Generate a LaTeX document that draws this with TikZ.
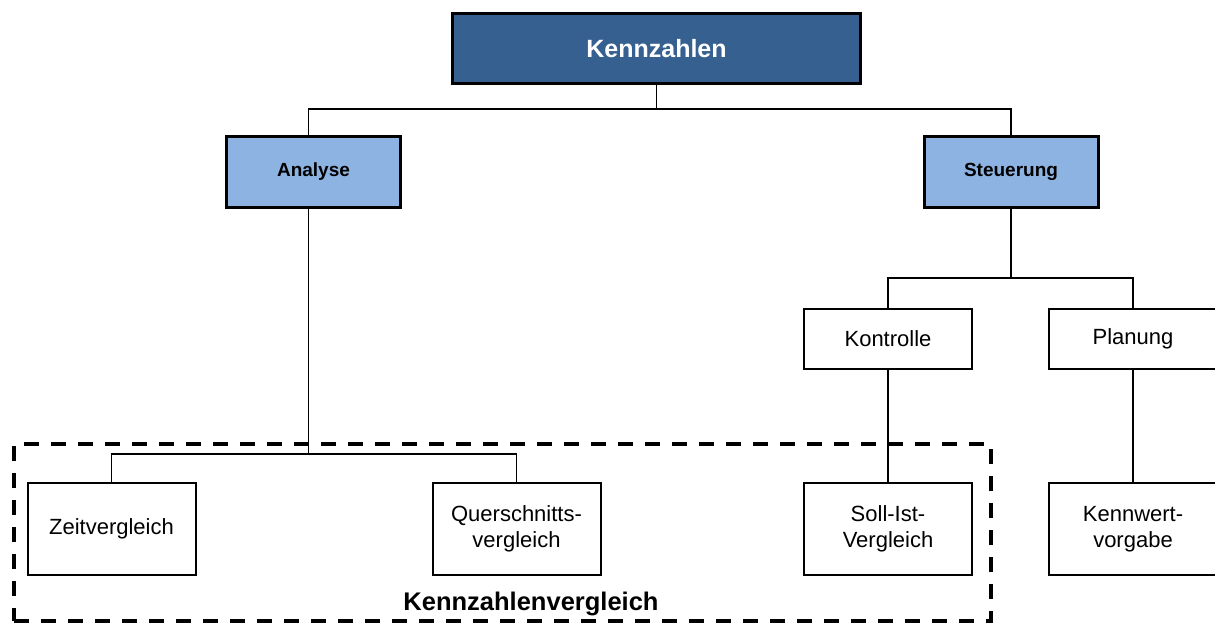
\documentclass[tikz,border=0pt]{standalone}
\usepackage{fontspec}
\setmainfont{Liberation Sans}
\definecolor{topblue}{HTML}{36608F}
\definecolor{midblue}{HTML}{8DB3E2}
\begin{document}
\begin{tikzpicture}[x=1pt,y=-1pt,
  topbox/.style={draw=black, line width=3.2pt, fill=topblue, text=white,
    font=\fontsize{25}{30}\selectfont\bfseries, inner sep=0pt,
    minimum width=408pt, minimum height=70pt},
  midbox/.style={draw=black, line width=3pt, fill=midblue,
    font=\fontsize{19}{23}\selectfont\bfseries, inner sep=0pt,
    minimum width=174pt, minimum height=71pt},
  leafbox/.style={draw=black, line width=2pt, fill=white, align=center,
    font=\fontsize{22}{26}\selectfont, inner sep=0pt,
    minimum width=168pt},
  shortleaf/.style={leafbox, minimum height=60pt},
  tallleaf/.style={leafbox, minimum height=92pt},
  link/.style={line width=1.2pt},
  groupframe/.style={draw=black, line width=4pt, dash pattern=on 15pt off 12pt,
    inner sep=0pt, minimum width=977pt, minimum height=177pt},
  grouplabel/.style={font=\fontsize{25.5}{30}\selectfont\bfseries, inner sep=0pt}
]
\clip (0,0) rectangle (1215,626);
\fill[white] (0,0) rectangle (1215,626);

% group frame around the comparison methods
\node[groupframe] (frame) at (502.5,532.5) {};
\node[grouplabel] (vgl) at (531,604) {Kennzahlenvergleich};

% boxes
\node[topbox] (kz) at (656.5,48.5) {Kennzahlen};
\node[midbox] (ana) at (313.5,172) {Analyse};
\node[midbox] (st) at (1011,171.5) {Steuerung};
\node[shortleaf] (kon) at (888,339) {Kontrolle};
\node[shortleaf] (plan) at (1133,339) {Planung};
\node[tallleaf] (zeit) at (111.5,529) {Zeitvergleich};
\node[tallleaf] (quer) at (516.5,529) {Querschnitts-\\vergleich};
\node[tallleaf] (soll) at (888,529) {Soll-Ist-\\Vergleich};
\node[tallleaf] (kenn) at (1133,529) {Kennwert-\\vorgabe};

% junction points of the tree
\coordinate (j1) at (656.5,109);
\coordinate (ax) at (308.5,0);
\coordinate (j2) at (308.5,454);
\coordinate (j3) at (1011,278);

% connectors
\draw[link] (kz.south) -- (kz.south |- j1);
\draw[link] (ana.north -| ax) |- (j1) -| (st.north);
\draw[link] (ana.south -| ax) -- (j2);
\draw[link] (zeit.north) |- (j2) -| (quer.north);
\draw[link] (st.south) -- (j3);
\draw[link] (kon.north) |- (j3) -| (plan.north);
\draw[link] (kon.south) -- (soll.north);
\draw[link] (plan.south) -- (kenn.north);
\end{tikzpicture}
\end{document}
